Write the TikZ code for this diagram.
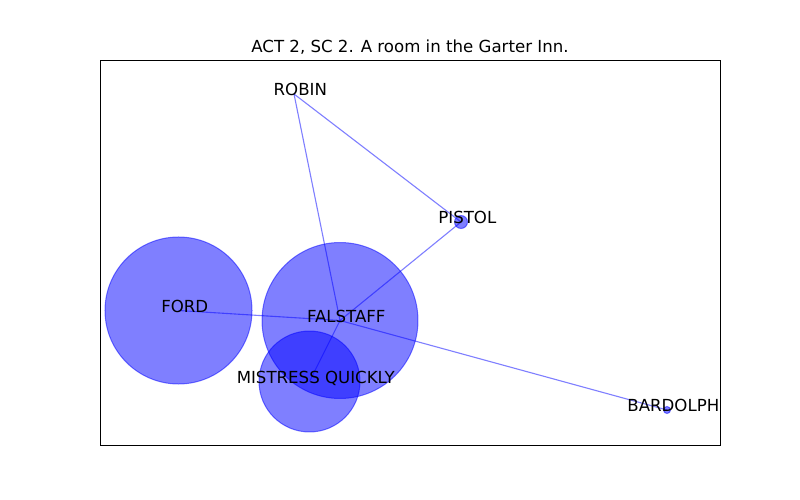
\documentclass[tikz,border=0pt]{standalone}
\usepackage{fontspec}
\setmainfont{DejaVu Sans}
\usetikzlibrary{positioning}
\begin{document}
\begin{tikzpicture}[x=0.254mm, y=-0.254mm, font=\fontsize{12}{14}\selectfont]
        % Estilos para personajes, nombres y enlaces
        \tikzstyle{person} = [circle, draw=blue, fill=blue, fill opacity=0.5, draw opacity=0.5, inner sep=0pt, line width=0.72pt]
        \tikzstyle{role} = [inner sep=0pt, text depth=0pt, xshift=1.6mm, yshift=1.15mm] % Etiqueta de personaje
        \tikzstyle{link} = [draw=blue, draw opacity=0.5, line width=0.8pt]
        \useasboundingbox (0,0) rectangle (800,500);
       % Title and frame
       \node [inner sep=0pt, text depth=0pt] (title) at (410,46) {ACT 2, SC 2. A room in the Garter Inn.};
       \draw [line width=0.7pt] (100,60) rectangle (720,445); % Axes frame
       % Positions
       \coordinate (robin) at (294,94);
       \coordinate (pistol) at (461,222);
       \coordinate (ford) at (178.5,310.5);
       \coordinate (falstaff) at (340,320.5);
       \coordinate (quickly) at (309.5,381.5);
       \coordinate (bardolph) at (667,410);
       % Links
       \draw[link] (robin) -- (pistol);
       \draw[link] (robin) -- (falstaff);
       \draw[link] (pistol) -- (falstaff);
       \draw[link] (ford) -- (falstaff);
       \draw[link] (falstaff) -- (quickly);
       \draw[link] (falstaff) -- (bardolph);
       % People
       \node [person, minimum size=3.3mm] (pistolNode) at (pistol) {};
       \node [person, minimum size=37.34mm] (fordNode) at (ford) {};
       \node [person, minimum size=39.62mm] (falstaffNode) at (falstaff) {};
       \node [person, minimum size=25.65mm] (quicklyNode) at (quickly) {};
       \node [person, minimum size=1.78mm] (bardolphNode) at (bardolph) {};
       % Names
       \node [role] (robinName) at (robin) {ROBIN};
       \node [role] (pistolName) at (pistol) {PISTOL};
       \node [role] (fordName) at (ford) {FORD};
       \node [role] (falstaffName) at (falstaff) {FALSTAFF};
       \node [role] (quicklyName) at (quickly) {MISTRESS QUICKLY};
       \node [role] (bardolphName) at (bardolph) {BARDOLPH};
      \end{tikzpicture}
\end{document}
